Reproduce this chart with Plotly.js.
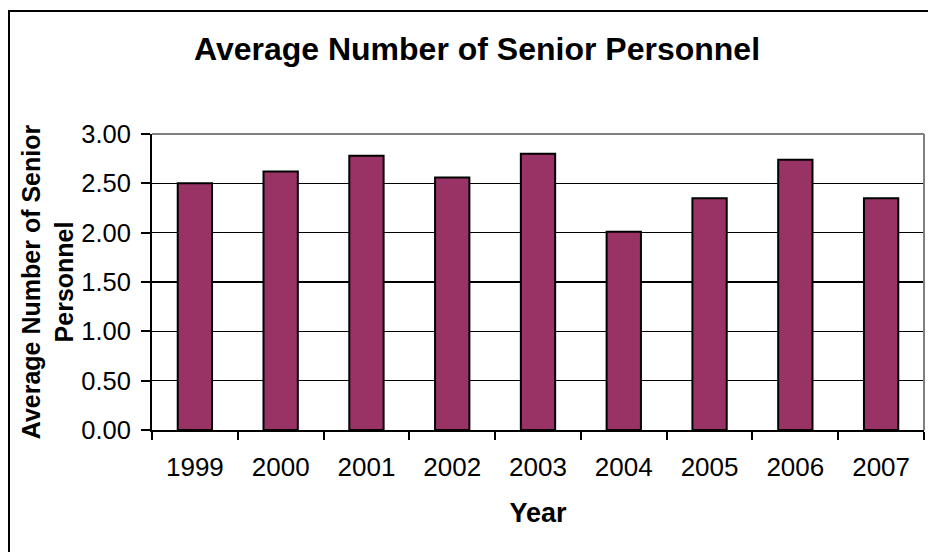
<!DOCTYPE html>
<html>
<head>
<meta charset="utf-8">
<script src="https://cdn.plot.ly/plotly-3.0.1.min.js"></script>
<style>html,body{margin:0;padding:0;background:#fff;}#chart{width:928px;height:552px;}</style>
</head>
<body>
<div id="chart"></div>
<script>
const years = ['1999','2000','2001','2002','2003','2004','2005','2006','2007'];
const avgSenior = [2.50, 2.62, 2.78, 2.56, 2.80, 2.01, 2.35, 2.74, 2.35];
const yTickVals = [0, 0.5, 1, 1.5, 2, 2.5, 3];
const yTickText = ['0.00','0.50','1.00','1.50','2.00','2.50','3.00'];

const W = 928, H = 552;
const L = 152, R = 924, T = 134, B = 430;
const px = v => (v - L) / (R - L);
const py = v => (B - v) / (B - T);
const FONT = 'Arial, "Liberation Sans", sans-serif';

const trace = {
  type: 'bar',
  x: years,
  y: avgSenior,
  marker: { color: '#993366', line: { color: '#000000', width: 2 } },
  hoverinfo: 'x+y'
};

const layout = {
  width: W, height: H,
  margin: { l: L, r: W - R, t: T, b: H - B, pad: 0 },
  paper_bgcolor: '#ffffff',
  plot_bgcolor: '#ffffff',
  showlegend: false,
  bargap: 0.6,
  font: { family: FONT, color: '#000' },
  title: {
    text: '<b>Average Number of Senior Personnel</b>',
    font: { family: FONT, size: 32, color: '#000' },
    xref: 'container', x: 477 / W, xanchor: 'center',
    yref: 'container', y: 1 - 49 / H, yanchor: 'middle'
  },
  xaxis: {
    type: 'category',
    showgrid: false,
    showline: true, linecolor: '#000', linewidth: 2,
    ticks: 'outside', tickson: 'boundaries', ticklen: 8, tickwidth: 2, tickcolor: '#000',
    tickfont: { family: FONT, size: 26, color: '#000' },
    ticklabelstandoff: 13,
    title: { text: '<b>Year</b>', font: { family: FONT, size: 27, color: '#000' }, standoff: 22 },
    automargin: false,
    zeroline: false
  },
  yaxis: {
    range: [0, 3],
    tickvals: yTickVals, ticktext: yTickText,
    showgrid: true, gridcolor: '#000', gridwidth: 1.5,
    showline: true, linecolor: '#000', linewidth: 2,
    ticks: 'outside', ticklen: 9, tickwidth: 2, tickcolor: '#000',
    tickfont: { family: FONT, size: 25.5, color: '#000' },
    ticklabelstandoff: 5,
    title: { text: '<b>Average Number of Senior<br>Personnel</b>', font: { family: FONT, size: 25, color: '#000' }, standoff: 1 },
    automargin: false,
    zeroline: false,
    fixedrange: true
  },
  shapes: [
    { type: 'line', xref: 'paper', yref: 'paper', x0: 0, x1: 1, y0: 1, y1: 1, line: { color: '#808080', width: 2 }, layer: 'above' },
    { type: 'line', xref: 'paper', yref: 'paper', x0: 1, x1: 1, y0: 0, y1: 1, line: { color: '#808080', width: 2 }, layer: 'above' },
    { type: 'rect', xref: 'paper', yref: 'paper', x0: px(9), x1: px(960), y0: py(11), y1: py(600), line: { color: '#000', width: 2 }, fillcolor: 'rgba(0,0,0,0)', layer: 'above' }
  ]
};

Plotly.newPlot('chart', [trace], layout, { displayModeBar: false, staticPlot: true });
</script>
</body>
</html>
